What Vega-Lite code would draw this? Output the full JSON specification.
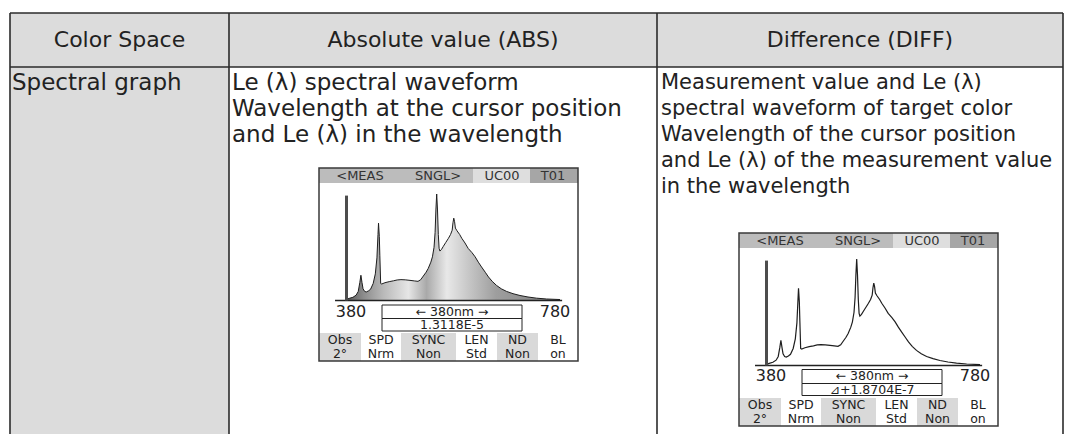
{
  "$schema": "https://vega.github.io/schema/vega-lite/v6.json",
  "width": 1068,
  "height": 434,
  "padding": 0,
  "autosize": {"type": "none"},
  "background": "white",
  "config": {"view": {"stroke": null}},
  "datasets": {
    "spectrum": [
      {"nm": 380, "le": 0.01}, {"nm": 385, "le": 0.02}, {"nm": 392, "le": 0.03}, {"nm": 398, "le": 0.05},
      {"nm": 402, "le": 0.085}, {"nm": 405, "le": 0.17}, {"nm": 407, "le": 0.237}, {"nm": 409, "le": 0.17},
      {"nm": 411, "le": 0.11}, {"nm": 414, "le": 0.085}, {"nm": 417, "le": 0.08}, {"nm": 421, "le": 0.09},
      {"nm": 425, "le": 0.105}, {"nm": 430, "le": 0.16}, {"nm": 434, "le": 0.25}, {"nm": 437, "le": 0.4},
      {"nm": 439, "le": 0.62}, {"nm": 440, "le": 0.726}, {"nm": 441.5, "le": 0.6}, {"nm": 442.5, "le": 0.42},
      {"nm": 444, "le": 0.16}, {"nm": 446, "le": 0.155}, {"nm": 452, "le": 0.167}, {"nm": 460, "le": 0.177},
      {"nm": 468, "le": 0.185}, {"nm": 475, "le": 0.193}, {"nm": 482, "le": 0.196}, {"nm": 490, "le": 0.194},
      {"nm": 499, "le": 0.189}, {"nm": 507, "le": 0.184}, {"nm": 514, "le": 0.18}, {"nm": 519, "le": 0.195},
      {"nm": 524, "le": 0.23}, {"nm": 529, "le": 0.265}, {"nm": 533, "le": 0.3}, {"nm": 538, "le": 0.36},
      {"nm": 541, "le": 0.41}, {"nm": 544, "le": 0.5}, {"nm": 546, "le": 0.64}, {"nm": 547.5, "le": 0.85},
      {"nm": 549, "le": 1.0}, {"nm": 550.5, "le": 0.85}, {"nm": 552, "le": 0.62}, {"nm": 553.5, "le": 0.49},
      {"nm": 555, "le": 0.464}, {"nm": 558, "le": 0.48}, {"nm": 561, "le": 0.505}, {"nm": 566, "le": 0.545},
      {"nm": 571, "le": 0.584}, {"nm": 575, "le": 0.62}, {"nm": 578, "le": 0.66}, {"nm": 579.5, "le": 0.73},
      {"nm": 581, "le": 0.773}, {"nm": 582.5, "le": 0.74}, {"nm": 584, "le": 0.68}, {"nm": 587, "le": 0.655},
      {"nm": 592, "le": 0.62}, {"nm": 596, "le": 0.584}, {"nm": 602, "le": 0.54}, {"nm": 608, "le": 0.489},
      {"nm": 615, "le": 0.45}, {"nm": 621, "le": 0.41}, {"nm": 627, "le": 0.36}, {"nm": 633, "le": 0.315},
      {"nm": 640, "le": 0.265}, {"nm": 646, "le": 0.221}, {"nm": 653, "le": 0.18}, {"nm": 661, "le": 0.142},
      {"nm": 670, "le": 0.11}, {"nm": 680, "le": 0.085}, {"nm": 692, "le": 0.064}, {"nm": 705, "le": 0.047},
      {"nm": 720, "le": 0.033}, {"nm": 736, "le": 0.022}, {"nm": 755, "le": 0.014}, {"nm": 780, "le": 0.009}
    ],
    "frame": [
      {"part": "cursor", "nm": 380, "nm2": 380, "le": 0, "le2": 0.985},
      {"part": "axis", "nm": 358.5, "nm2": 784, "le": 0, "le2": 0}
    ],
    "fills": [
      {"part": "shade", "x": 10, "x2": 1063, "y": 13, "y2": 67},
      {"part": "shade", "x": 10, "x2": 229, "y": 67, "y2": 434},
      {"part": "barA", "x": 319, "x2": 473, "y": 168, "y2": 183},
      {"part": "barB", "x": 473, "x2": 530, "y": 168, "y2": 183},
      {"part": "barC", "x": 530, "x2": 578, "y": 168, "y2": 183},
      {"part": "cell", "x": 319, "x2": 361, "y": 333, "y2": 361},
      {"part": "cell", "x": 401, "x2": 456, "y": 333, "y2": 361},
      {"part": "cell", "x": 497, "x2": 538, "y": 333, "y2": 361},
      {"part": "barA", "x": 739, "x2": 893, "y": 233, "y2": 248},
      {"part": "barB", "x": 893, "x2": 950, "y": 233, "y2": 248},
      {"part": "barC", "x": 950, "x2": 998, "y": 233, "y2": 248},
      {"part": "cell", "x": 739, "x2": 781, "y": 398, "y2": 426},
      {"part": "cell", "x": 821, "x2": 876, "y": 398, "y2": 426},
      {"part": "cell", "x": 917, "x2": 958, "y": 398, "y2": 426}
    ],
    "lines": [
      {"x": 10, "x2": 1063, "y": 13, "y2": 13},
      {"x": 10, "x2": 1063, "y": 67, "y2": 67},
      {"x": 10, "x2": 10, "y": 13, "y2": 434},
      {"x": 229, "x2": 229, "y": 13, "y2": 434},
      {"x": 657, "x2": 657, "y": 13, "y2": 434},
      {"x": 1063, "x2": 1063, "y": 13, "y2": 434}
    ],
    "boxes": [
      {"part": "screen", "x": 319, "x2": 578, "y": 168, "y2": 361},
      {"part": "screen", "x": 739, "x2": 998, "y": 233, "y2": 426},
      {"part": "value", "x": 382, "x2": 522, "y": 305, "y2": 318.5},
      {"part": "value", "x": 382, "x2": 522, "y": 318.5, "y2": 331},
      {"part": "value", "x": 802, "x2": 942, "y": 369.5, "y2": 383.5},
      {"part": "value", "x": 802, "x2": 942, "y": 383.5, "y2": 395.5}
    ],
    "labels": [
      {"role": "head", "text": "Color Space", "x": 119.5, "y": 40},
      {"role": "head", "text": "Absolute value (ABS)", "x": 443, "y": 40},
      {"role": "head", "text": "Difference (DIFF)", "x": 860, "y": 40},
      {"role": "body", "text": "Spectral graph", "x": 12, "y": 83},
      {"role": "body", "text": "Le (λ) spectral waveform", "x": 232, "y": 83},
      {"role": "body", "text": "Wavelength at the cursor position", "x": 232, "y": 109},
      {"role": "body", "text": "and Le (λ) in the wavelength", "x": 232, "y": 135},
      {"role": "body3", "text": "Measurement value and Le (λ)", "x": 661, "y": 83},
      {"role": "body3", "text": "spectral waveform of target color", "x": 661, "y": 109},
      {"role": "body3", "text": "Wavelength of the cursor position", "x": 661, "y": 135},
      {"role": "body3", "text": "and Le (λ) of the measurement value", "x": 661, "y": 161},
      {"role": "body3", "text": "in the wavelength", "x": 661, "y": 187},
      {"role": "lcdtitle", "text": "<MEAS", "x": 360, "y": 176},
      {"role": "lcdtitle", "text": "SNGL>", "x": 438, "y": 176},
      {"role": "lcdtitle", "text": "UC00", "x": 502, "y": 176},
      {"role": "lcdtitle", "text": "T01", "x": 553, "y": 176},
      {"role": "lcdtitle", "text": "<MEAS", "x": 780, "y": 241},
      {"role": "lcdtitle", "text": "SNGL>", "x": 858, "y": 241},
      {"role": "lcdtitle", "text": "UC00", "x": 922, "y": 241},
      {"role": "lcdtitle", "text": "T01", "x": 973, "y": 241},
      {"role": "lcdaxis", "text": "380", "x": 351, "y": 312},
      {"role": "lcdaxis", "text": "780", "x": 555, "y": 312},
      {"role": "lcdaxis", "text": "380", "x": 771, "y": 376},
      {"role": "lcdaxis", "text": "780", "x": 975, "y": 376},
      {"role": "lcdbox", "text": "← 380nm →", "x": 452, "y": 311.5},
      {"role": "lcdbox", "text": "1.3118E-5", "x": 452, "y": 325},
      {"role": "lcdbox", "text": "← 380nm →", "x": 872, "y": 376},
      {"role": "lcdbox", "text": "⊿+1.8704E-7", "x": 872, "y": 389.5},
      {"role": "lcdcell", "text": "Obs", "x": 340, "y": 340},
      {"role": "lcdcell", "text": "SPD", "x": 381, "y": 340},
      {"role": "lcdcell", "text": "SYNC", "x": 428.5, "y": 340},
      {"role": "lcdcell", "text": "LEN", "x": 476.5, "y": 340},
      {"role": "lcdcell", "text": "ND", "x": 517.5, "y": 340},
      {"role": "lcdcell", "text": "BL", "x": 558, "y": 340},
      {"role": "lcdcell", "text": "2°", "x": 340, "y": 354},
      {"role": "lcdcell", "text": "Nrm", "x": 381, "y": 354},
      {"role": "lcdcell", "text": "Non", "x": 428.5, "y": 354},
      {"role": "lcdcell", "text": "Std", "x": 476.5, "y": 354},
      {"role": "lcdcell", "text": "Non", "x": 517.5, "y": 354},
      {"role": "lcdcell", "text": "on", "x": 558, "y": 354},
      {"role": "lcdcell", "text": "Obs", "x": 760, "y": 405},
      {"role": "lcdcell", "text": "SPD", "x": 801, "y": 405},
      {"role": "lcdcell", "text": "SYNC", "x": 848.5, "y": 405},
      {"role": "lcdcell", "text": "LEN", "x": 896.5, "y": 405},
      {"role": "lcdcell", "text": "ND", "x": 937.5, "y": 405},
      {"role": "lcdcell", "text": "BL", "x": 978, "y": 405},
      {"role": "lcdcell", "text": "2°", "x": 760, "y": 419},
      {"role": "lcdcell", "text": "Nrm", "x": 801, "y": 419},
      {"role": "lcdcell", "text": "Non", "x": 848.5, "y": 419},
      {"role": "lcdcell", "text": "Std", "x": 896.5, "y": 419},
      {"role": "lcdcell", "text": "Non", "x": 937.5, "y": 419},
      {"role": "lcdcell", "text": "on", "x": 978, "y": 419}
    ]
  },
  "layer": [
    {
      "encoding": {
        "x": {"field": "x", "type": "quantitative", "scale": {"domain": [0, 1068], "nice": false, "zero": false}, "axis": null},
        "y": {"field": "y", "type": "quantitative", "scale": {"domain": [0, 434], "reverse": true, "nice": false, "zero": false}, "axis": null}
      },
      "layer": [
        {
          "data": {"name": "fills"},
          "mark": {"type": "rect"},
          "encoding": {
            "x2": {"field": "x2"},
            "y2": {"field": "y2"},
            "color": {"field": "part", "type": "nominal", "scale": {"domain": ["shade", "barA", "barB", "barC", "cell"], "range": ["#dcdcdc", "#bcbcbc", "#dedede", "#a6a6a6", "#d9d9d9"]}, "legend": null}
          }
        },
        {
          "data": {"name": "lines"},
          "mark": {"type": "rule", "color": "#2b2b2b", "strokeWidth": 1.6},
          "encoding": {"x2": {"field": "x2"}, "y2": {"field": "y2"}}
        },
        {
          "data": {"name": "boxes"},
          "transform": [{"filter": "datum.part === 'screen'"}],
          "mark": {"type": "rect", "filled": false, "color": "#3a3a3a", "strokeWidth": 1.5},
          "encoding": {"x2": {"field": "x2"}, "y2": {"field": "y2"}}
        },
        {
          "data": {"name": "boxes"},
          "transform": [{"filter": "datum.part === 'value'"}],
          "mark": {"type": "rect", "filled": false, "color": "#222222", "strokeWidth": 1},
          "encoding": {"x2": {"field": "x2"}, "y2": {"field": "y2"}}
        },
        {
          "data": {"name": "labels"},
          "transform": [{"filter": "datum.role === 'head'"}],
          "mark": {"type": "text", "align": "center", "baseline": "middle", "font": "DejaVu Sans", "fontSize": 22, "color": "#222222"},
          "encoding": {"text": {"field": "text"}}
        },
        {
          "data": {"name": "labels"},
          "transform": [{"filter": "datum.role === 'body'"}],
          "mark": {"type": "text", "align": "left", "baseline": "middle", "font": "DejaVu Sans", "fontSize": 23, "color": "#222222"},
          "encoding": {"text": {"field": "text"}}
        },
        {
          "data": {"name": "labels"},
          "transform": [{"filter": "datum.role === 'body3'"}],
          "mark": {"type": "text", "align": "left", "baseline": "middle", "font": "DejaVu Sans", "fontSize": 21, "color": "#222222"},
          "encoding": {"text": {"field": "text"}}
        },
        {
          "data": {"name": "labels"},
          "transform": [{"filter": "datum.role === 'lcdtitle'"}],
          "mark": {"type": "text", "align": "center", "baseline": "middle", "font": "DejaVu Sans", "fontSize": 13, "color": "#333333"},
          "encoding": {"text": {"field": "text"}}
        },
        {
          "data": {"name": "labels"},
          "transform": [{"filter": "datum.role === 'lcdaxis'"}],
          "mark": {"type": "text", "align": "center", "baseline": "middle", "font": "DejaVu Sans", "fontSize": 16, "color": "#222222"},
          "encoding": {"text": {"field": "text"}}
        },
        {
          "data": {"name": "labels"},
          "transform": [{"filter": "datum.role === 'lcdbox'"}],
          "mark": {"type": "text", "align": "center", "baseline": "middle", "font": "DejaVu Sans", "fontSize": 12.5, "color": "#222222"},
          "encoding": {"text": {"field": "text"}}
        },
        {
          "data": {"name": "labels"},
          "transform": [{"filter": "datum.role === 'lcdcell'"}],
          "mark": {"type": "text", "align": "center", "baseline": "middle", "font": "DejaVu Sans", "fontSize": 12.5, "color": "#222222"},
          "encoding": {"text": {"field": "text"}}
        }
      ]
    },
    {
      "encoding": {
        "x": {"field": "nm", "type": "quantitative", "scale": {"domain": [-269.2, 1731.8], "nice": false, "zero": false}, "axis": null},
        "y": {"field": "le", "type": "quantitative", "scale": {"domain": [-1.2535, 2.8216], "nice": false, "zero": false}, "axis": null}
      },
      "layer": [
        {
          "data": {"name": "spectrum"},
          "mark": {
            "type": "area",
            "color": {
              "gradient": "linear", "x1": 0, "y1": 0, "x2": 1, "y2": 0,
              "stops": [
                {"offset": 0, "color": "#5a5a5a"},
                {"offset": 0.08, "color": "#8c8c8c"},
                {"offset": 0.17, "color": "#b8b8b8"},
                {"offset": 0.29, "color": "#e6e6e6"},
                {"offset": 0.375, "color": "#a9a9a9"},
                {"offset": 0.47, "color": "#e8e8e8"},
                {"offset": 0.58, "color": "#c4c4c4"},
                {"offset": 0.7, "color": "#9e9e9e"},
                {"offset": 0.9, "color": "#8a8a8a"},
                {"offset": 1, "color": "#808080"}
              ]
            }
          },
          "encoding": {"y2": {"datum": 0}}
        },
        {
          "data": {"name": "spectrum"},
          "mark": {"type": "line", "color": "#1e1e1e", "strokeWidth": 1}
        },
        {
          "data": {"name": "frame"},
          "transform": [{"filter": "datum.part === 'axis'"}],
          "mark": {"type": "rule", "color": "#222222", "strokeWidth": 1.5},
          "encoding": {"x2": {"field": "nm2"}, "y2": {"field": "le2"}}
        },
        {
          "data": {"name": "frame"},
          "transform": [{"filter": "datum.part === 'cursor'"}],
          "mark": {"type": "rule", "color": "#4d4d4d", "strokeWidth": 3},
          "encoding": {"x2": {"field": "nm2"}, "y2": {"field": "le2"}}
        }
      ]
    },
    {
      "encoding": {
        "x": {"field": "nm", "type": "quantitative", "scale": {"domain": [-1056.1, 944.9], "nice": false, "zero": false}, "axis": null},
        "y": {"field": "le", "type": "quantitative", "scale": {"domain": [-0.6432, 3.4319], "nice": false, "zero": false}, "axis": null}
      },
      "layer": [
        {
          "data": {"name": "spectrum"},
          "mark": {"type": "line", "color": "#1e1e1e", "strokeWidth": 1.2}
        },
        {
          "data": {"name": "frame"},
          "transform": [{"filter": "datum.part === 'axis'"}],
          "mark": {"type": "rule", "color": "#222222", "strokeWidth": 1.5},
          "encoding": {"x2": {"field": "nm2"}, "y2": {"field": "le2"}}
        },
        {
          "data": {"name": "frame"},
          "transform": [{"filter": "datum.part === 'cursor'"}],
          "mark": {"type": "rule", "color": "#4d4d4d", "strokeWidth": 3},
          "encoding": {"x2": {"field": "nm2"}, "y2": {"field": "le2"}}
        }
      ]
    }
  ],
  "resolve": {"scale": {"x": "independent", "y": "independent"}}
}
